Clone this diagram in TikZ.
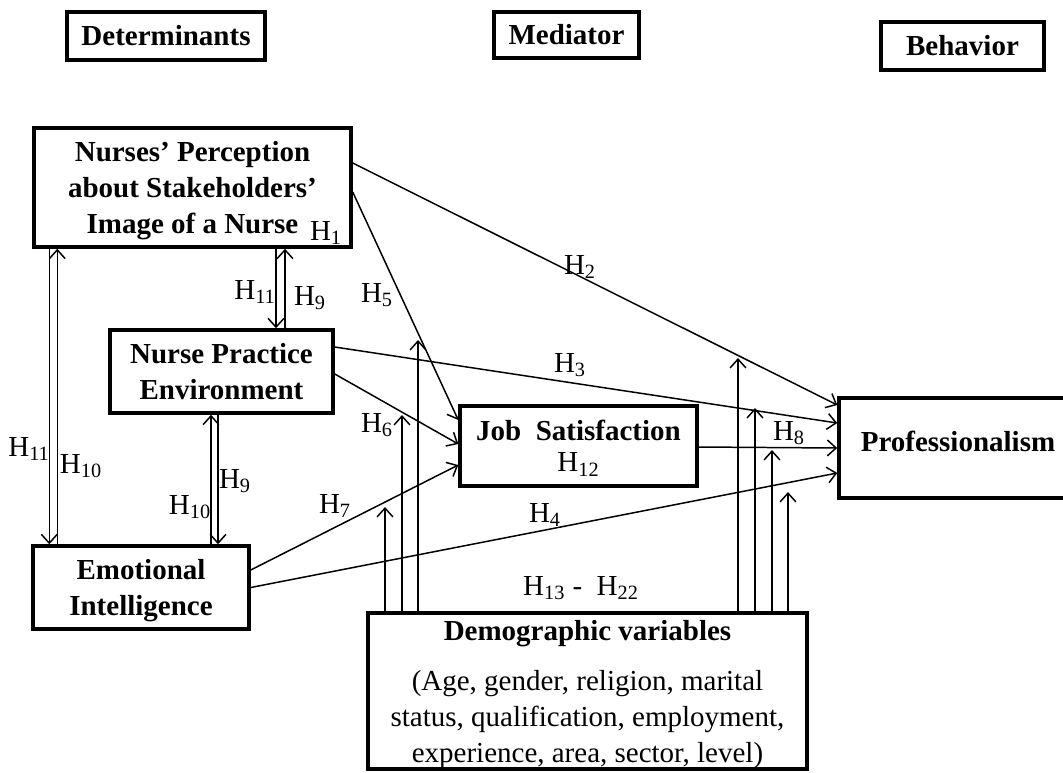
\documentclass[tikz,border=0pt]{standalone}
\usepackage{fontspec}
\setmainfont{Liberation Serif}
\usepackage{tikz}
\usetikzlibrary{calc,arrows.meta}
\newcommand{\fsz}{\fontsize{16.5}{20.5}\selectfont}
\newcommand{\Hs}[1]{H\textsubscript{#1}}
\tikzset{
  headbox/.style={draw, line width=1.8pt, font=\fsz\bfseries},
  box/.style={draw, line width=2pt, align=center, font=\fsz\bfseries},
  hlab/.style={inner sep=0pt, font=\fsz},
  link/.style={->, line width=0.85pt},
}
\begin{document}
\begin{tikzpicture}[x=0.02cm, y=-0.02cm, >={Straight Barb[length=5pt,width=9pt]}]
  \useasboundingbox (0,0) rectangle (1063,772);

  % 三个标题框
  \node[headbox, minimum width=3.96cm, minimum height=0.96cm] (det) at (166,36) {Determinants};
  \node[headbox, minimum width=2.9cm, minimum height=0.92cm] (med) at (566.5,35) {Mediator};
  \node[headbox, minimum width=3.26cm, minimum height=0.96cm] (beh) at (962.5,46) {Behavior};

  % 各变量框 (text depth 用来微调文字的上下位置)
  \node[box, minimum width=6.34cm, minimum height=2.38cm, text depth=-4.5pt] (np) at (192.5,187.5)
    {Nurses' Perception\\about Stakeholders'\\Image of a Nurse};
  \node[box, minimum width=4.46cm, minimum height=1.66cm] (npe) at (221.5,371.5)
    {Nurse Practice\\Environment};
  \node[box, minimum width=4.32cm, minimum height=1.66cm, text depth=-1.5pt] (ei) at (141,587.5)
    {Emotional\\Intelligence};
  \node[box, minimum width=4.74cm, minimum height=1.6cm, text depth=-2pt] (js) at (578.5,446)
    {Job\ \ Satisfaction\\[-3pt]{\normalfont\Hs{12}}};
  \node[box, minimum width=4.76cm, minimum height=2cm, text depth=8pt] (prof) at (958,448) {Professionalism}; %右边框超出画面
  \node[box, minimum width=8.78cm, minimum height=3.12cm, inner ysep=0pt, text depth=-8pt] (demo) at (587.5,691)
    {Demographic variables\\[8pt]
     {\normalfont (Age, gender, religion, marital}\\
     {\normalfont status, qualification, employment,}\\
     {\normalfont experience, area, sector, level)}};

  % 框之间的双向箭头
  \coordinate (a1) at ($(np.south west)+(17,0)$);
  \coordinate (a2) at ($(np.south west)+(25,0)$);
  \draw[link] (a1) -- (a1 |- ei.north);
  \draw[link] (a2 |- ei.north) -- (a2);
  \coordinate (b1) at ($(npe.north)+(54.5,0)$);
  \coordinate (b2) at ($(npe.north)+(63.5,0)$);
  \draw[link] (b1 |- np.south) -- (b1);
  \draw[link] (b2) -- (b2 |- np.south);
  \coordinate (c1) at ($(npe.south)+(-10.5,0)$);
  \coordinate (c2) at ($(npe.south)+(-3.5,0)$);
  \draw[link] (c1 |- ei.north) -- (c1);
  \draw[link] (c2) -- (c2 |- ei.north);

  % 指向中介和行为的箭头
  \draw[link] ($(np.east)+(0,-24.5)$) -- ($(prof.west)+(0,-43)$);   %H2
  \draw[link] ($(np.east)+(0,4.5)$) -- ($(js.west)+(0,-26)$);       %H5
  \draw[link] ($(npe.east)+(0,-24.5)$) -- ($(prof.west)+(0,-25)$);  %H3
  \draw[link] ($(npe.east)+(0,2.5)$) -- ($(js.west)+(0,-2)$);       %H6
  \draw[link] ($(ei.east)+(0,-17.5)$) -- ($(js.west)+(0,19)$);      %H7
  \draw[link] (ei.east) -- ($(prof.west)+(0,25)$);                  %H4
  \draw[link] ($(js.east)+(0,1)$) -- (prof.west);                   %H8

  % 人口变量的竖直箭头
  \foreach \x/\y [count=\i] in {385/507,402/415,418/340,738/358,755/408,772/450,788/492}{
    \coordinate (dv\i) at (\x,\y);
    \draw[link] (dv\i |- demo.north) -- (dv\i);
  }

  % 假设标注
  \node[hlab] (h1) at (326,233) {\Hs{1}};
  \node[hlab] (h2) at (580,267) {\Hs{2}};
  \node[hlab] (h3) at (570,365) {\Hs{3}};
  \node[hlab] (h4) at (545,515) {\Hs{4}};
  \node[hlab] (h5) at (377,295) {\Hs{5}};
  \node[hlab] (h6) at (377,425) {\Hs{6}};
  \node[hlab] (h7) at (335,506) {\Hs{7}};
  \node[hlab] (h8) at (789,433) {\Hs{8}};
  \node[hlab] (h9a) at (310,298) {\Hs{9}};
  \node[hlab] (h9b) at (235,481) {\Hs{9}};
  \node[hlab] (h10a) at (81,466) {\Hs{10}};
  \node[hlab] (h10b) at (190,507) {\Hs{10}};
  \node[hlab] (h11a) at (255,292) {\Hs{11}};
  \node[hlab] (h11b) at (29,449) {\Hs{11}};
  \node[hlab] (h1322) at (581,588) {\Hs{13} -\ \ \Hs{22}};
\end{tikzpicture}
\end{document}
